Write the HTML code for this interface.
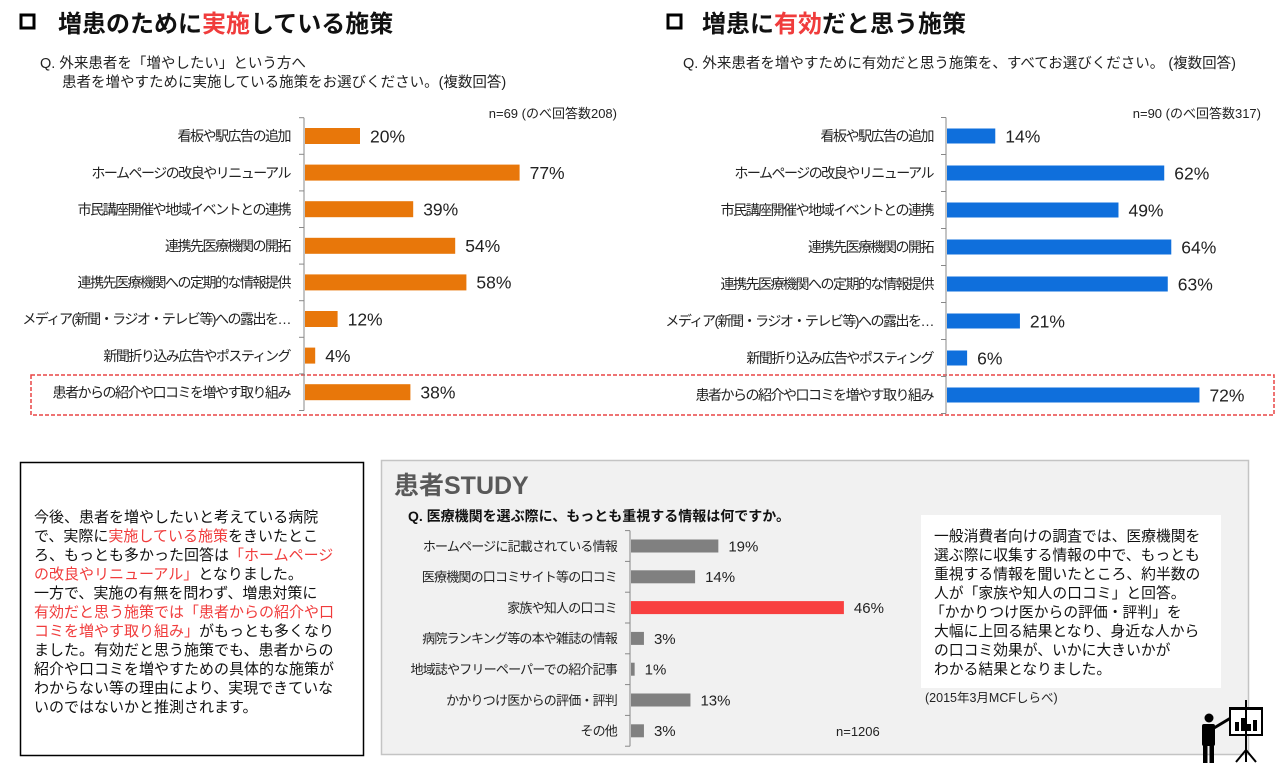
<!DOCTYPE html>
<html><head><meta charset="utf-8">
<style>
body{margin:0;width:1275px;height:772px;background:#fff;overflow:hidden;font-family:"Liberation Sans","Noto Sans CJK JP",sans-serif;}
svg{position:absolute;left:0;top:0}
text{font-family:"Liberation Sans","Noto Sans CJK JP",sans-serif;}
</style></head>
<body>
<svg id="s" width="1275" height="772">
  <rect x="21" y="15" width="13" height="13" fill="none" stroke="#000" stroke-width="3"/>
  <text x="58" y="32" font-size="24" font-weight="bold" fill="#111">増患のために<tspan fill="#f03c3c">実施</tspan>している施策</text>
  <text x="40" y="68" font-size="14.5" fill="#222">Q. 外来患者を「増やしたい」という方へ</text>
  <text x="62" y="87" font-size="14.5" fill="#222">患者を増やすために実施している施策をお選びください。(複数回答)</text>
  <text x="617" y="118" font-size="13" text-anchor="end" fill="#222">n=69 (のべ回答数208)</text>

  <rect x="668" y="15" width="13" height="13" fill="none" stroke="#000" stroke-width="3"/>
  <text x="702" y="32" font-size="24" font-weight="bold" fill="#111">増患に<tspan fill="#f03c3c">有効</tspan>だと思う施策</text>
  <text x="683" y="68" font-size="14.5" fill="#222">Q. 外来患者を増やすために有効だと思う施策を、すべてお選びください。 (複数回答)</text>
  <text x="1261" y="118" font-size="13" text-anchor="end" fill="#222">n=90 (のべ回答数317)</text>

  <rect x="31" y="375" width="1243" height="40" fill="none" stroke="#e84545" stroke-width="1.5" stroke-dasharray="4,2"/>

  <g id="leftChart"></g>
  <g id="rightChart"></g>

  <rect x="20.5" y="462.5" width="343" height="293" fill="#fff" stroke="#000" stroke-width="1.5"/>
  <g font-size="15" fill="#111">
    <text x="34" y="522">今後、患者を増やしたいと考えている病院</text>
    <text x="34" y="541">で、実際に<tspan fill="#f03c3c">実施している施策</tspan>をきいたとこ</text>
    <text x="34" y="560">ろ、もっとも多かった回答は<tspan fill="#f03c3c">「ホームページ</tspan></text>
    <text x="34" y="579"><tspan fill="#f03c3c">の改良やリニューアル」</tspan>となりました。</text>
    <text x="34" y="598">一方で、実施の有無を問わず、増患対策に</text>
    <text x="34" y="617"><tspan fill="#f03c3c">有効だと思う施策では「患者からの紹介や口</tspan></text>
    <text x="34" y="636"><tspan fill="#f03c3c">コミを増やす取り組み」</tspan>がもっとも多くなり</text>
    <text x="34" y="655">ました。有効だと思う施策でも、患者からの</text>
    <text x="34" y="674">紹介や口コミを増やすための具体的な施策が</text>
    <text x="34" y="693">わからない等の理由により、実現できていな</text>
    <text x="34" y="712">いのではないかと推測されます。</text>
  </g>

  <rect x="381.5" y="460.5" width="867" height="294" fill="#f1f1f1" stroke="#c4c4c4" stroke-width="1.5"/>
  <text x="394" y="494" font-size="25" font-weight="bold" fill="#595959">患者STUDY</text>
  <text x="408" y="521" font-size="14" font-weight="bold" fill="#111">Q. 医療機関を選ぶ際に、もっとも重視する情報は何ですか。</text>
  <g id="studyChart"></g>
  <text x="836" y="736" font-size="13" fill="#222">n=1206</text>
  <rect x="921" y="515" width="300" height="173" fill="#fff"/>
  <g font-size="14.8" fill="#111">
    <text x="934" y="541">一般消費者向けの調査では、医療機関を</text>
    <text x="934" y="560">選ぶ際に収集する情報の中で、もっとも</text>
    <text x="934" y="579">重視する情報を聞いたところ、約半数の</text>
    <text x="934" y="598">人が「家族や知人の口コミ」と回答。</text>
    <text x="930" y="617">「かかりつけ医からの評価・評判」を</text>
    <text x="934" y="636">大幅に上回る結果となり、身近な人から</text>
    <text x="934" y="655">の口コミ効果が、いかに大きいかが</text>
    <text x="934" y="674">わかる結果となりました。</text>
  </g>
  <text x="925" y="702" font-size="12.5" fill="#222">(2015年3月MCFしらべ)</text>

  <g fill="#000">
    <circle cx="1209" cy="718" r="4.5"/>
    <rect x="1202" y="724" width="13" height="22" rx="2"/>
    <rect x="1203" y="744" width="4.5" height="19"/>
    <rect x="1209.5" y="744" width="4.5" height="19"/>
    <line x1="1214" y1="728" x2="1234" y2="716" stroke="#000" stroke-width="3"/>
    <rect x="1230" y="709" width="32" height="26" fill="#fff" stroke="#000" stroke-width="2"/>
    <rect x="1229" y="707" width="34" height="3"/>
    <rect x="1235" y="722" width="4" height="9"/><rect x="1241" y="718" width="4" height="13"/><rect x="1247" y="724" width="4" height="7"/><rect x="1253" y="720" width="4" height="11"/>
    <line x1="1246" y1="700" x2="1246" y2="762" stroke="#000" stroke-width="2"/>
    <line x1="1246" y1="750" x2="1236" y2="762" stroke="#000" stroke-width="2"/>
    <line x1="1246" y1="750" x2="1256" y2="762" stroke="#000" stroke-width="2"/>
  </g>
</svg>
<script>
const leftCategories=["看板や駅広告の追加","ホームページの改良やリニューアル","市民講座開催や地域イベントとの連携","連携先医療機関の開拓","連携先医療機関への定期的な情報提供","メディア(新聞・ラジオ・テレビ等)への露出を…","新聞折り込み広告やポスティング","患者からの紹介や口コミを増やす取り組み"];
const leftValues=[20,77,39,54,58,12,4,38];
const rightCategories=leftCategories;
const rightValues=[14,62,49,64,63,21,6,72];
const studyCategories=["ホームページに記載されている情報","医療機関の口コミサイト等の口コミ","家族や知人の口コミ","病院ランキング等の本や雑誌の情報","地域誌やフリーペーパーでの紹介記事","かかりつけ医からの評価・評判","その他"];
const studyValues=[19,14,46,3,1,13,3];
const studyHighlight=[false,false,true,false,false,false,false];

const NS="http://www.w3.org/2000/svg";
function mk(tag,attrs,parent){const e=document.createElementNS(NS,tag);for(const k in attrs)e.setAttribute(k,attrs[k]);parent.appendChild(e);return e;}

function drawChart(g,cats,vals,o){
  const x=v=>o.x0+v*o.scale;
  const y=i=>o.y0+i*o.step;
  const axis=mk('line',{x1:o.x0,x2:o.x0,y1:y(0)-o.step/2,y2:y(cats.length-1)+o.step/2,stroke:'#888','stroke-width':1},g);
  
  
  for(let i=0;i<=cats.length;i++){
    const t=mk('line',{x1:o.x0-5,x2:o.x0,y1:y(i)-o.step/2,y2:y(i)-o.step/2,stroke:'#888'},g);
    
    
  }
  cats.forEach((c,i)=>{
    const lab=mk('text',{x:o.labelX,y:y(i)+o.fs*0.37,'font-size':o.fs,'letter-spacing':o.ls,'text-anchor':'end',fill:'#222'},g);
    lab.textContent=c;
    
    
    const col=o.hl&&o.hl[i]?o.hlColor:o.color;
    const b=mk('rect',{x:o.x0+1,y:y(i)-o.bh/2,width:Math.max(0,x(vals[i])-o.x0-1),height:o.bh,fill:col},g);
    
    
    const v=mk('text',{x:x(vals[i])+o.gap,y:y(i)+o.vfs*0.36,'font-size':o.vfs,fill:'#222'},g);
    v.textContent=vals[i]+'%';
    
    
  });
}
drawChart(document.getElementById('leftChart'),leftCategories,leftValues,{x0:304,scale:2.8,y0:136,step:36.6,bh:16,color:'#e8770a',labelX:290,fs:14,ls:-1.5,vfs:17.5,gap:10});
drawChart(document.getElementById('rightChart'),rightCategories,rightValues,{x0:946,scale:3.52,y0:136,step:37,bh:15,color:'#0f6fdc',labelX:933,fs:14,ls:-1.5,vfs:17.5,gap:10});
drawChart(document.getElementById('studyChart'),studyCategories,studyValues,{x0:630,scale:4.65,y0:546,step:30.8,bh:13,color:'#808080',hl:studyHighlight,hlColor:'#f84040',labelX:617,fs:13,ls:-0.8,vfs:15,gap:10});
</script>
</body></html>
